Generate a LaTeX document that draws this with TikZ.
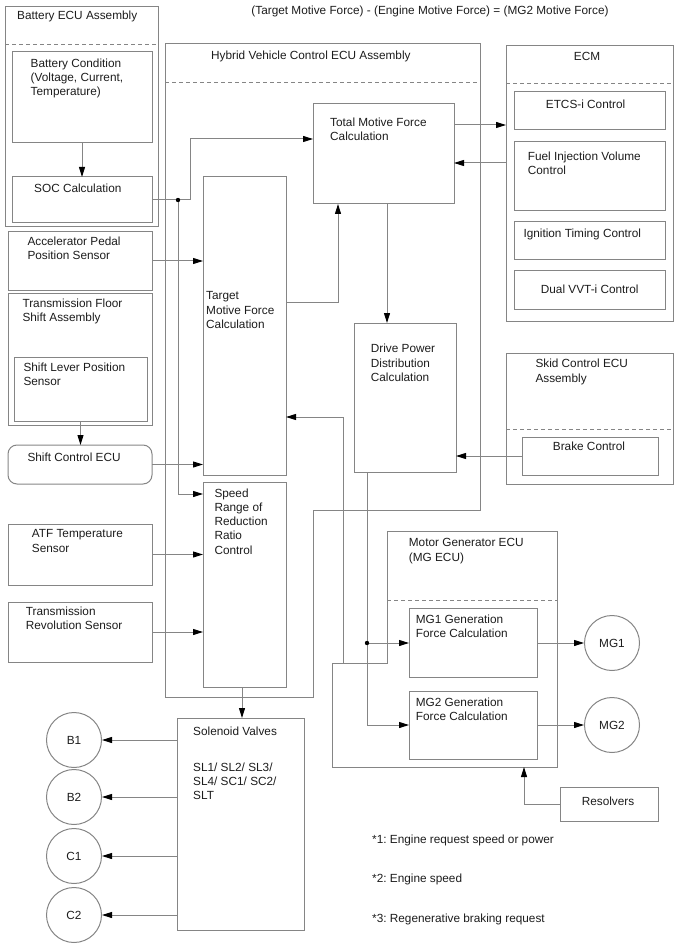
\documentclass[tikz,border=0pt]{standalone}
\usepackage{fontspec}
\setmainfont{Liberation Sans}
\usetikzlibrary{arrows.meta}
\definecolor{ln}{HTML}{858585}
\definecolor{tx}{HTML}{1C1C1C}
\newcommand\bx[5]{\node[box, minimum width={(#4-#2)*1pt}, minimum height={(#5-#3)*1pt}] (#1) at (#2,#3) {};}
\frenchspacing
\begin{document}
\begin{tikzpicture}[x=1pt,y=-1pt,
  box/.style={draw=ln, line width=1pt, inner sep=0pt, outer sep=0pt, anchor=north west},
  frame/.style={draw=ln, line width=1pt},
  dsh/.style={draw=ln, line width=0.9pt, dash pattern=on 4pt off 3pt},
  lbl/.style={anchor=north west, inner sep=0pt, align=left, text=tx, font=\fontsize{11.8pt}{14.3pt}\selectfont},
  clbl/.style={anchor=center, inner sep=0pt, text=tx, font=\fontsize{11.8pt}{14.3pt}\selectfont},
  circ/.style={circle, draw=ln, line width=1pt, minimum size=55pt, inner sep=0pt, text=tx, font=\fontsize{11.8pt}{14.3pt}\selectfont},
  arr/.style={draw=ln, line width=1pt, -{Triangle[length=10pt,width=6pt,color=black]}},
  jdot/.style={fill=black}
]
\useasboundingbox (0,0) rectangle (688,949);

% top formula
\node[clbl] (formula) at (430,11) {(Target Motive Force) - (Engine Motive Force) = (MG2 Motive Force)};

% Battery ECU
\bx{batt}{5}{7}{158}{227}
\draw[dsh] (5,44) -- (158,44);
\node[lbl] (battT) at (17,10.6) {Battery ECU Assembly};
\bx{batcond}{12}{52}{152}{143}
\node[lbl] (batcondT) at (30.5,58.3) {Battery Condition\\(Voltage, Current,\\Temperature)};
\bx{soc}{12}{177}{152}{223}
\node[lbl] (socT) at (34,183.3) {SOC Calculation};

% Hybrid vehicle control ECU outline
\draw[frame] (165,44) -- (480,44) -- (480,510) -- (313,510) -- (313,697) -- (165,697) -- cycle;
\draw[dsh] (165,82) -- (480,82);
\node[lbl] (hvT) at (211,50.6) {Hybrid Vehicle Control ECU Assembly};

\bx{total}{313}{104}{454}{204}
\node[lbl] (totalT) at (330,117.3) {Total Motive Force\\Calculation};
\bx{target}{203}{177}{286}{475}
\node[lbl] (targetT) at (206,291.6) {Target\\Motive Force\\Calculation};
\bx{speed}{203}{482}{286}{687}
\node[lbl] (speedT) at (214.3,488.3) {Speed\\Range of\\Reduction\\Ratio\\Control};
\bx{drive}{354}{323}{456}{472}
\node[lbl] (driveT) at (370.7,344) {Drive Power\\Distribution\\Calculation};

% ECM
\bx{ecm}{506}{46}{673}{321}
\draw[dsh] (506,83) -- (673,83);
\node[clbl] (ecmT) at (587,56.7) {ECM};
\bx{etcs}{514}{92}{665}{130}
\node[lbl] (etcsT) at (545.7,99.6) {ETCS-i Control};
\bx{fuel}{514}{142}{665}{211}
\node[lbl] (fuelT) at (527.7,151.3) {Fuel Injection Volume\\Control};
\bx{ign}{514}{222}{665}{260}
\node[lbl] (ignT) at (523.3,228.3) {Ignition Timing Control};
\bx{vvt}{514}{271}{665}{309}
\node[lbl] (vvtT) at (540.7,284.6) {Dual VVT-i Control};

% left sensors
\bx{accel}{8}{232}{152}{290}
\node[lbl] (accelT) at (27.3,236.6) {Accelerator Pedal\\Position Sensor};
\bx{floor}{8}{293}{152}{425}
\node[lbl] (floorT) at (22.3,298.3) {Transmission Floor\\Shift Assembly};
\bx{slps}{14}{357}{147}{421}
\node[lbl] (slpsT) at (23.3,362.6) {Shift Lever Position\\Sensor};
\node[box, rounded corners=9pt, minimum width=144pt, minimum height=39pt] (shiftecu) at (8,445) {};
\node[lbl] (shiftT) at (27.3,452.6) {Shift Control ECU};
\bx{atf}{8}{524}{152}{585}
\node[lbl] (atfT) at (31.7,529.6) {ATF Temperature\\Sensor};
\bx{trs}{8}{602}{152}{662}
\node[lbl] (trsT) at (25.7,606.6) {Transmission\\Revolution Sensor};

% Skid control
\bx{skid}{506}{353}{673}{484}
\draw[dsh] (506,429) -- (673,429);
\node[lbl] (skidT) at (535.3,359) {Skid Control ECU\\Assembly};
\bx{brake}{522}{437}{658}{475}
\node[lbl] (brakeT) at (552.7,441.3) {Brake Control};

% MG ECU outline
\draw[frame] (387,531) -- (557,531) -- (557,767) -- (332,767) -- (332,663) -- (387,663) -- cycle;
\draw[dsh] (387,600) -- (557,600);
\node[lbl] (mgT) at (408.7,538.3) {Motor Generator ECU\\(MG ECU)};
\bx{mg1gen}{409}{608}{537}{677}
\node[lbl] (mg1gT) at (415.7,614.6) {MG1 Generation\\Force Calculation};
\bx{mg2gen}{409}{691}{537}{759}
\node[lbl] (mg2gT) at (415.7,697.6) {MG2 Generation\\Force Calculation};
\node[circ] (mg1) at (612,643) {MG1};
\node[circ] (mg2) at (612,725) {MG2};
\coordinate (mgout) at (343,663);
\coordinate (mgbot) at (524,767);

% Solenoid valves
\bx{sol}{177}{718}{304}{930}
\node[lbl] (solT) at (193,726.6) {Solenoid Valves};
\node[lbl] (slT) at (193,762.6) {SL1/ SL2/ SL3/\\SL4/ SC1/ SC2/\\SLT};
\node[circ] (b1) at (74,740) {B1};
\node[circ] (b2) at (74,797) {B2};
\node[circ] (c1) at (74,856) {C1};
\node[circ] (c2) at (74,915) {C2};

% Resolvers
\bx{res}{560}{787}{658}{821}
\node[clbl] (resT) at (608,801.5) {Resolvers};

% footnotes
\node[lbl] (fn1) at (372,834.6) {*1: Engine request speed or power};
\node[lbl] (fn2) at (372,873.6) {*2: Engine speed};
\node[lbl] (fn3) at (372,913.6) {*3: Regenerative braking request};

% connectors
\coordinate (j1) at (178,200);
\coordinate (j2) at (367,643);
\draw[arr] (batcond.south) -- (soc.north);
\draw[arr] (soc.east) -| (190,139) -- (total.west |- 0,139);
\draw[arr] (j1) |- (speed.west |- 0,494);
\draw[arr] (accel.east) -- (target.west |- accel.east);
\draw[arr] (slps.south) -- (shiftecu.north -| slps.south);
\draw[arr] (shiftecu.east) -- (target.west |- shiftecu.east);
\draw[arr] (target.east |- 0,302) -| (total.south -| 338,0);
\draw[arr] (total.east |- 0,125) -- (ecm.west |- 0,125);
\draw[arr] (ecm.west |- 0,163) -- (total.east |- 0,163);
\draw[arr] (total.south -| 387,0) -- (drive.north -| 387,0);
\draw[arr] (brake.west) -- (drive.east |- brake.west);
\draw[arr] (drive.south -| 367,0) |- (mg2gen.west);
\draw[arr] (j2) -- (mg1gen.west |- j2);
\draw[arr] (mgout) |- (target.east |- 0,417);
\draw[arr] (atf.east) -- (speed.west |- atf.east);
\draw[arr] (trs.east) -- (speed.west |- trs.east);
\draw[arr] (speed.south -| 242,0) -- (sol.north -| 242,0);
\draw[arr] (sol.west |- b1) -- (b1.east);
\draw[arr] (sol.west |- b2) -- (b2.east);
\draw[arr] (sol.west |- c1) -- (c1.east);
\draw[arr] (sol.west |- c2) -- (c2.east);
\draw[arr] (mg1gen.east |- mg1) -- (mg1.west);
\draw[arr] (mg2gen.east |- mg2) -- (mg2.west);
\draw[arr] (res.west) -| (mgbot);
\fill[jdot] (j1) circle (2.2pt);
\fill[jdot] (j2) circle (2.2pt);
\end{tikzpicture}
\end{document}
